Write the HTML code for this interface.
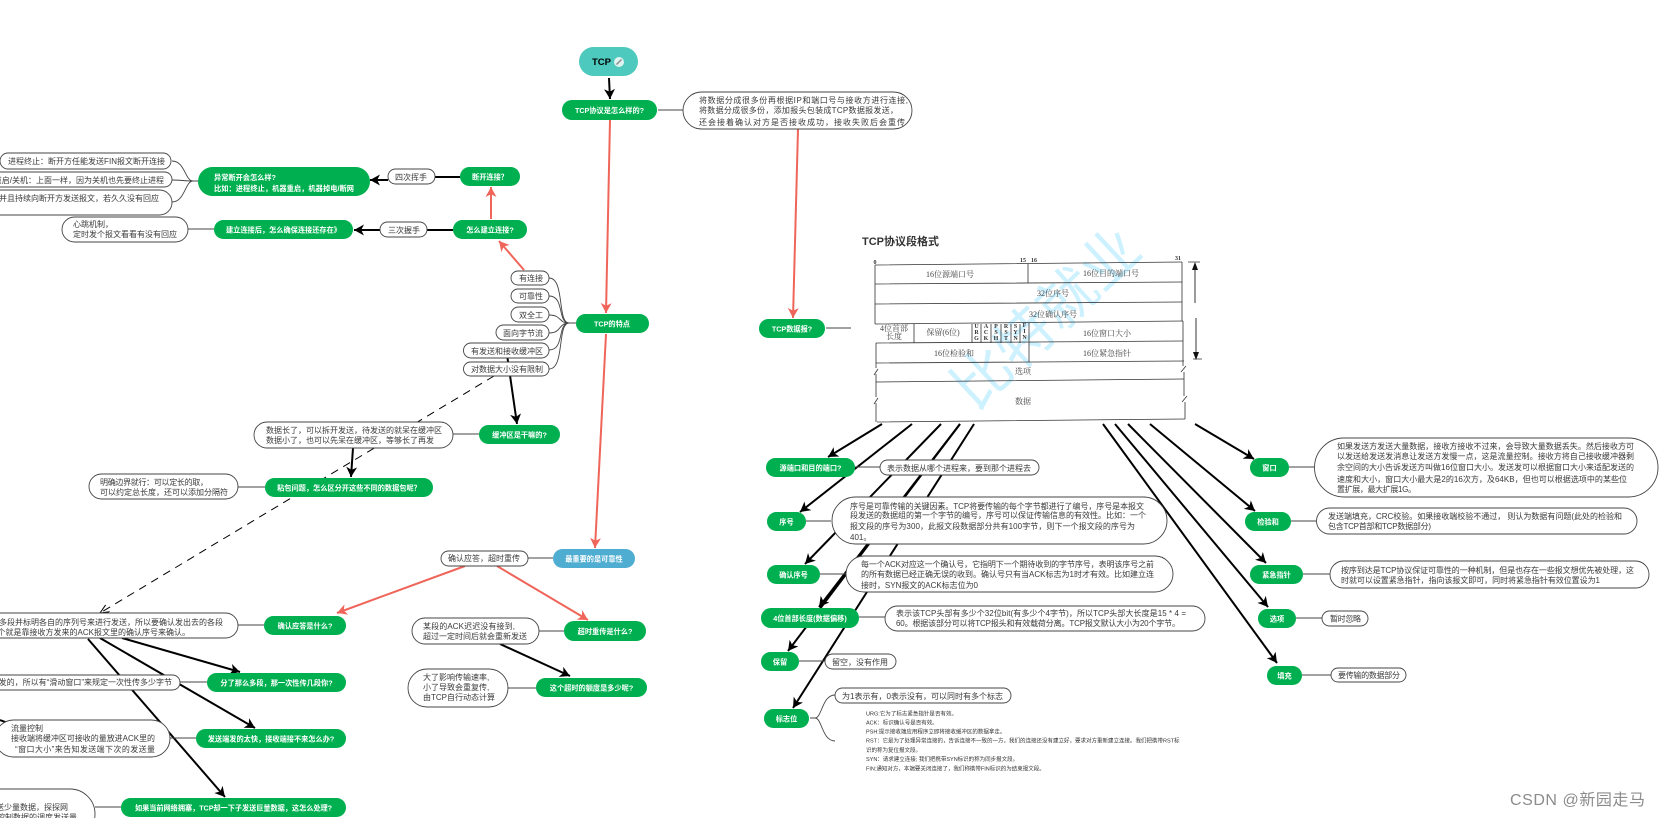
<!DOCTYPE html>
<html lang="zh">
<head>
<meta charset="utf-8">
<title>TCP</title>
<style>
html,body{margin:0;padding:0;background:#fff;width:1660px;height:818px;overflow:hidden}
svg{display:block;font-family:"Liberation Sans","Noto Sans CJK SC",sans-serif}
.t{font-size:8px;fill:#3a3a3a}
.g{font-size:7.2px;font-weight:bold;fill:#fff;text-anchor:middle}
.e{text-anchor:end}
.p{fill:#fff;stroke:#444;stroke-width:.9}
.n{fill:#00b050;filter:drop-shadow(.7px .7px 0 #a8e6c5)}
.k{stroke:#000;stroke-width:2;fill:none}
.r{stroke:#f0655a;stroke-width:2;fill:none}
.c{stroke:#444;stroke-width:.9;fill:none}
.l{stroke:#222;stroke-width:1;fill:none}
.s{font-family:"Liberation Serif","Noto Serif CJK SC",serif;font-size:8px;fill:#444;text-anchor:middle}
.f{font-family:"Liberation Serif",serif;font-size:6px;font-weight:bold;fill:#333;text-anchor:middle}
.m{font-size:5.5px;fill:#333}
.tb{stroke:#333;stroke-width:.8;fill:none}
</style>
</head>
<body>
<svg width="1660" height="818" viewBox="0 0 1660 818" xmlns="http://www.w3.org/2000/svg">
<defs>
<marker id="b" markerUnits="userSpaceOnUse" markerWidth="13" markerHeight="13" refX="10" refY="5.5" orient="auto"><path d="M0,0L10,5.5L0,11L2.8,5.5z" fill="#000"/></marker>
<marker id="a" markerUnits="userSpaceOnUse" markerWidth="13" markerHeight="13" refX="10" refY="5.5" orient="auto"><path d="M0,0L10,5.5L0,11L2.8,5.5z" fill="#f0655a"/></marker>
<marker id="d" markerUnits="userSpaceOnUse" markerWidth="12" markerHeight="12" refX="9" refY="4" orient="auto"><path d="M0,0L9,4L0,8" fill="none" stroke="#000" stroke-width="1"/></marker>
</defs>

<!-- watermark -->
<text x="975" y="412" transform="rotate(-43 975 412)" font-size="58" fill="#cdf1fe" style="font-family:'Noto Sans CJK SC',sans-serif">比特就业</text>

<!-- table -->
<text x="862" y="245" font-size="11" font-weight="bold" fill="#333" textLength="77">TCP协议段格式</text>
<g class="tb">
<path d="M875,265L1182,262M875,284L1182,282M875,304L1182,302M875,324L1183,321M876,343L1183,341M876,363L1184,361M876,382L1184,379M877,422L1185,419"/>
<path d="M875,265V324M876,343V368M876,374V397M876,403V422"/>
<path d="M1182,262V321M1183,321V366M1184,372V396M1185,402V419"/>
<path d="M1028,264V283M1029,323V362"/>
<path d="M914,324V343M972,324V343M981,324V343M991,324V343M1001,324V343M1011,324V343M1020,324V343"/>
<path d="M874,375L878,369M874,404L878,398M1181,372L1186,366M1182,402L1187,396"/>
<path d="M1188,262H1200M1193,359H1202"/>
</g>
<path d="M1195,264V303M1196,318V358" stroke="#222" stroke-width=".9" fill="none"/>
<path d="M1195,262L1192,270H1198zM1196,360L1193,352H1199z" fill="#111"/>
<text class="f" x="875" y="264">0</text><text class="f" x="1023" y="262">15</text><text class="f" x="1034" y="262">16</text><text class="f" x="1178" y="260">31</text>
<text class="s" x="950" y="277">16位源端口号</text>
<text class="s" x="1111" y="276">16位目的端口号</text>
<text class="s" x="1053" y="296">32位序号</text>
<text class="s" x="1053" y="317">32位确认序号</text>
<text class="s" x="894" y="331">4位首部</text><text class="s" x="894" y="339">长度</text>
<text class="s" x="943" y="335">保留(6位)</text>
<text class="s" x="1107" y="336">16位窗口大小</text>
<text class="s" x="954" y="356">16位检验和</text>
<text class="s" x="1107" y="356">16位紧急指针</text>
<text class="s" x="1023" y="374">选项</text>
<text class="s" x="1023" y="404">数据</text>
<g class="f">
<text x="976.5" y="328">U</text><text x="976.5" y="334">R</text><text x="976.5" y="340">G</text>
<text x="986" y="328">A</text><text x="986" y="334">C</text><text x="986" y="340">K</text>
<text x="996" y="328">P</text><text x="996" y="334">S</text><text x="996" y="340">H</text>
<text x="1006" y="328">R</text><text x="1006" y="334">S</text><text x="1006" y="340">T</text>
<text x="1015.5" y="328">S</text><text x="1015.5" y="334">Y</text><text x="1015.5" y="340">N</text>
<text x="1024.5" y="327">F</text><text x="1024.5" y="333">I</text><text x="1024.5" y="339">N</text>
</g>

<!-- black arrows -->
<g class="k">
<path d="M609,78L610,99" marker-end="url(#b)"/>
<path d="M388,180H370" marker-end="url(#b)"/>
<path d="M435,177H460"/>
<path d="M380,230H354" marker-end="url(#b)"/>
<path d="M427,230H453"/>
<path d="M507.5,358L517,424" marker-end="url(#b)"/>
<path d="M353,448L351,477" marker-end="url(#b)"/>
<path d="M122,638L240,672" marker-end="url(#b)"/>
<path d="M100,638L255,728" marker-end="url(#b)"/>
<path d="M88,639L225,797" marker-end="url(#b)"/>
<path d="M500,644L570,676" marker-end="url(#b)"/>
<path d="M882,424L828,457" marker-end="url(#b)"/>
<path d="M912,424L800,512" marker-end="url(#b)"/>
<path d="M941,424L805,564" marker-end="url(#b)"/>
<path d="M960,424L819,607" marker-end="url(#b)"/>
<path d="M960,424L788,651" marker-end="url(#b)"/>
<path d="M974,424L793,708" marker-end="url(#b)"/>
<path d="M1195,424L1254,459" marker-end="url(#b)"/>
<path d="M1150,424L1255,511" marker-end="url(#b)"/>
<path d="M1128,424L1266,563" marker-end="url(#b)"/>
<path d="M1115,424L1268,607" marker-end="url(#b)"/>
<path d="M1103,424L1277,663" marker-end="url(#b)"/>
<path d="M0,720L8,723"/>
</g>
<path d="M494,376L100,613" stroke="#000" stroke-width="1" stroke-dasharray="8,6" fill="none" marker-end="url(#d)"/>

<!-- red arrows -->
<g class="r">
<path d="M610,120L606,313" marker-end="url(#a)"/>
<path d="M798,129L793,318" marker-end="url(#a)"/>
<path d="M606,334L595,548" marker-end="url(#a)"/>
<path d="M491,219V187" marker-end="url(#a)"/>
<path d="M524,270L499,241" marker-end="url(#a)"/>
<path d="M465,566L337,613" marker-end="url(#a)"/>
<path d="M497,566L588,620" marker-end="url(#a)"/>
</g>

<!-- thin connectors -->
<g class="c">
<path d="M172,161C185,161 185,181 193,181M172,180C180,180 185,181 193,181M172,202C185,202 185,181 193,181M193,181H198"/>
<path d="M188,229H214"/>
<path d="M658,110H683"/>
<path d="M549,278C565,278 557,323 569,323M549,296C565,296 557,323 569,323M549,315C562,315 558,323 569,323M549,333C562,333 558,323 569,323M549,350C565,350 557,323 569,323M549,369C565,369 557,323 569,323M569,323H576"/>
<path d="M453,434H479M238,487H265M238,625H264M180,682H207M170,738H196M95,807H121M539,631H564M508,688H536M528,558H553"/>
<path d="M826,328H851M855,467H880M806,521H831M820,574H847M859,617H885M799,661H825"/>
<path d="M1289,467H1314M1291,521H1316M1303,574H1330M1296,618H1322M1302,675H1331"/>
<path d="M810,718H815C822,718 822,695 835,695M815,718C822,718 822,741 835,741"/>
</g>

<!-- root -->
<rect x="579" y="47" width="59" height="29" rx="14.5" fill="#4ec9bd"/>
<text x="592" y="65" font-size="9.5" font-weight="bold" fill="#000">TCP</text>
<circle cx="619" cy="62" r="5" fill="#dff3f1"/>
<path d="M616.5,64.5L621.5,59.5" stroke="#888" stroke-width="1.4"/>

<!-- green nodes -->
<rect class="n" x="198" y="167" width="172" height="29" rx="14.5"/>
<rect class="n" x="460" y="167" width="60" height="19" rx="9.5"/>
<rect class="n" x="214" y="220" width="139" height="19" rx="9.5"/>
<rect class="n" x="453" y="220" width="74" height="19" rx="9.5"/>
<rect class="n" x="562" y="100" width="95" height="20" rx="10"/>
<rect class="n" x="576" y="314" width="73" height="19" rx="9.5"/>
<rect class="n" x="479" y="425" width="81" height="19" rx="9.5"/>
<rect class="n" x="265" y="478" width="168" height="19" rx="9.5"/>
<rect x="553" y="549" width="82" height="19" rx="9.5" fill="#4fadd2"/>
<rect class="n" x="264" y="616" width="82" height="19" rx="9.5"/>
<rect class="n" x="564" y="621" width="82" height="20" rx="10"/>
<rect class="n" x="207" y="673" width="139" height="19" rx="9.5"/>
<rect class="n" x="536" y="678" width="111" height="19" rx="9.5"/>
<rect class="n" x="196" y="729" width="150" height="19" rx="9.5"/>
<rect class="n" x="121" y="798" width="225" height="19" rx="9.5"/>
<rect class="n" x="759" y="319" width="66" height="19" rx="9.5"/>
<rect class="n" x="766" y="458" width="89" height="19" rx="9.5"/>
<rect class="n" x="767" y="512" width="39" height="19" rx="9.5"/>
<rect class="n" x="767" y="565" width="53" height="19" rx="9.5"/>
<rect class="n" x="761" y="608" width="98" height="20" rx="10"/>
<rect class="n" x="761" y="652" width="38" height="19" rx="9.5"/>
<rect class="n" x="764" y="709" width="45" height="19" rx="9.5"/>
<rect class="n" x="1250" y="458" width="39" height="19" rx="9.5"/>
<rect class="n" x="1245" y="512" width="46" height="19" rx="9.5"/>
<rect class="n" x="1250" y="565" width="53" height="19" rx="9.5"/>
<rect class="n" x="1258" y="609" width="38" height="19" rx="9.5"/>
<rect class="n" x="1267" y="666" width="35" height="19" rx="9.5"/>

<text class="g" x="214" y="180" style="text-anchor:start">异常断开会怎么样?</text>
<text class="g" x="214" y="191" style="text-anchor:start" textLength="140">比如：进程终止，机器重启，机器掉电/断网</text>
<text class="g" x="490" y="179.5">断开连接？</text>
<text class="g" x="283.5" y="232.5">建立连接后，怎么确保连接还存在》</text>
<text class="g" x="490" y="232.5">怎么建立连接?</text>
<text class="g" x="609.5" y="113">TCP协议是怎么样的?</text>
<text class="g" x="612" y="326.5">TCP的特点</text>
<text class="g" x="519.5" y="437.5">缓冲区是干嘛的?</text>
<text class="g" x="349" y="490.5">粘包问题，怎么区分开这些不同的数据包呢？</text>
<text class="g" x="594" y="561.5">最重要的是可靠性</text>
<text class="g" x="305" y="628.5">确认应答是什么?</text>
<text class="g" x="605" y="634">超时重传是什么?</text>
<text class="g" x="276.5" y="685.5">分了那么多段，那一次性传几段你?</text>
<text class="g" x="591.5" y="690.5">这个超时的额度是多少呢?</text>
<text class="g" x="271" y="741.5">发送端发的太快，接收端接不来怎么办?</text>
<text class="g" x="233.5" y="810.5" textLength="197">如果当前网络拥塞，TCP却一下子发送巨量数据，这怎么处理?</text>
<text class="g" x="792" y="331.5">TCP数据报?</text>
<text class="g" x="810.5" y="470.5">源端口和目的端口?</text>
<text class="g" x="786.5" y="524.5">序号</text>
<text class="g" x="793.5" y="577.5">确认序号</text>
<text class="g" x="810" y="621">4位首部长度(数据偏移)</text>
<text class="g" x="780" y="664.5">保留</text>
<text class="g" x="786.5" y="721.5">标志位</text>
<text class="g" x="1269.5" y="470.5">窗口</text>
<text class="g" x="1268" y="524.5">检验和</text>
<text class="g" x="1276.5" y="577.5">紧急指针</text>
<text class="g" x="1277" y="621.5">选项</text>
<text class="g" x="1284.5" y="678.5">填充</text>

<!-- white pills -->
<rect class="p" x="0" y="153" width="171" height="16" rx="8"/>
<rect class="p" x="-40" y="172" width="212" height="15" rx="7.5"/>
<rect class="p" x="-60" y="190" width="232" height="25" rx="12.5"/>
<rect class="p" x="62" y="217" width="126" height="25" rx="12.5"/>
<rect class="p" x="388" y="169" width="47" height="15" rx="7.5"/>
<rect class="p" x="380" y="222" width="47" height="15" rx="7.5"/>
<rect class="p" x="683" y="92" width="229" height="37" rx="18.5"/>
<rect class="p" x="511" y="271" width="38" height="14" rx="7"/>
<rect class="p" x="511" y="289" width="38" height="14" rx="7"/>
<rect class="p" x="511" y="307" width="38" height="15" rx="7.5"/>
<rect class="p" x="496" y="325" width="53" height="15" rx="7.5"/>
<rect class="p" x="463.5" y="343" width="85.5" height="15" rx="7.5"/>
<rect class="p" x="463.5" y="362" width="85.5" height="14" rx="7"/>
<rect class="p" x="254" y="422" width="199" height="26" rx="13"/>
<rect class="p" x="89" y="474" width="149" height="25" rx="12.5"/>
<rect class="p" x="441" y="551" width="87" height="15" rx="7.5"/>
<rect class="p" x="412" y="618" width="127" height="26" rx="13"/>
<rect class="p" x="408" y="669" width="100" height="38" rx="19"/>
<rect class="p" x="-60" y="613" width="298" height="25" rx="12.5"/>
<rect class="p" x="-60" y="675" width="240" height="15" rx="7.5"/>
<rect class="p" x="-5" y="720" width="175" height="37" rx="18.5"/>
<rect class="p" x="-60" y="789" width="155" height="50" rx="25"/>
<rect class="p" x="880" y="460" width="159" height="15" rx="7.5"/>
<rect class="p" x="832" y="497" width="335" height="47" rx="23.5"/>
<rect class="p" x="846" y="556" width="327" height="36" rx="18"/>
<rect class="p" x="885" y="606" width="320" height="25" rx="12.5"/>
<rect class="p" x="825" y="654" width="71" height="15" rx="7.5"/>
<rect class="p" x="835" y="688" width="176" height="15" rx="7.5"/>
<rect class="p" x="1314.5" y="438" width="343.5" height="59" rx="29.5"/>
<rect class="p" x="1316.5" y="508" width="320.5" height="26" rx="13"/>
<rect class="p" x="1330" y="561" width="319" height="27" rx="13.5"/>
<rect class="p" x="1322" y="611" width="46" height="15" rx="7.5"/>
<rect class="p" x="1331" y="668" width="75" height="14" rx="7"/>

<!-- pill text -->
<text class="t" x="8" y="164" textLength="157">进程终止：断开方任能发送FIN报文断开连接</text>
<text class="t e" x="164" y="183">机器重启/关机：上面一样，因为关机也先要终止进程</text>
<text class="t e" x="159" y="201">对方机器掉电：无法发送FIN，并且持续向断开方发送报文，若久久没有回应</text>
<text class="t" x="73" y="227">心跳机制，</text>
<text class="t" x="73" y="237" textLength="104">定时发个报文看看有没有回应</text>
<text class="t" x="395" y="180" textLength="32">四次挥手</text>
<text class="t" x="388" y="233" textLength="32">三次握手</text>
<text class="t" x="699" y="103" textLength="209">将数据分成很多份再根据IP和端口号与接收方进行连接,</text>
<text class="t" x="699" y="113" textLength="199">将数据分成很多份，添加报头包装成TCP数据报发送，</text>
<text class="t" x="699" y="125" textLength="206">还会接着确认对方是否接收成功，接收失败后会重传</text>
<text class="t e" x="543" y="281">有连接</text>
<text class="t e" x="543" y="299">可靠性</text>
<text class="t e" x="543" y="318">双全工</text>
<text class="t e" x="543" y="336">面向字节流</text>
<text class="t e" x="543" y="354">有发送和接收缓冲区</text>
<text class="t e" x="543" y="372">对数据大小没有限制</text>
<text class="t" x="266" y="433" textLength="176">数据长了，可以拆开发送，待发送的就呆在缓冲区</text>
<text class="t" x="266" y="443" textLength="168">数据小了，也可以先呆在缓冲区，等够长了再发</text>
<text class="t" x="100" y="485" textLength="108">明确边界就行：可以定长的取，</text>
<text class="t" x="100" y="495" textLength="128">可以约定总长度，还可以添加分隔符</text>
<text class="t" x="448" y="561" textLength="72">确认应答，超时重传</text>
<text class="t" x="423" y="629" textLength="92">某段的ACK迟迟没有接到,</text>
<text class="t" x="423" y="639" textLength="104">超过一定时间后就会重新发送</text>
<text class="t" x="423" y="680">大了影响传输速率,</text>
<text class="t" x="423" y="690">小了导致会重复传,</text>
<text class="t" x="423" y="700">由TCP自行动态计算</text>
<text class="t e" x="223" y="625">TCP将每个报文分成多段并标明各自的序列号来进行发送，所以要确认发出去的各段</text>
<text class="t e" x="190" y="635">这个就是靠接收方发来的ACK报文里的确认序号来确认。</text>
<text class="t e" x="172" y="685">TCP是一段一段发的，所以有“滑动窗口”来规定一次性传多少字节</text>
<text class="t" x="11" y="731">流量控制</text>
<text class="t" x="11" y="741" textLength="144">接收端将缓冲区可接收的量放进ACK里的</text>
<text class="t" x="15" y="752" textLength="140">“窗口大小”来告知发送端下次的发送量</text>
<text class="t e" x="68" y="810">慢启动：先发送少量数据，探探网</text>
<text class="t e" x="77" y="820">络状况，再控制数据的调度发送量</text>
<text class="t" x="887" y="471" textLength="144">表示数据从哪个进程来，要到那个进程去</text>
<text class="t" x="850" y="509" textLength="294">序号是可靠传输的关键因素。TCP将要传输的每个字节都进行了编号，序号是本报文</text>
<text class="t" x="850" y="518" textLength="296">段发送的数据组的第一个字节的编号，序号可以保证传输信息的有效性。比如：一个</text>
<text class="t" x="850" y="529" textLength="285">报文段的序号为300，此报文段数据部分共有100字节，则下一个报文段的序号为</text>
<text class="t" x="850" y="540">401。</text>
<text class="t" x="861" y="567" textLength="293">每一个ACK对应这一个确认号，它指明下一个期待收到的字节序号，表明该序号之前</text>
<text class="t" x="861" y="577" textLength="293">的所有数据已经正确无误的收到。确认号只有当ACK标志为1时才有效。比如建立连</text>
<text class="t" x="861" y="588" textLength="117">接时，SYN报文的ACK标志位为0</text>
<text class="t" x="896" y="616" textLength="290">表示该TCP头部有多少个32位bit(有多少个4字节)，所以TCP头部大长度是15 * 4 =</text>
<text class="t" x="896" y="626" textLength="284">60。根据该部分可以将TCP报头和有效载荷分离。TCP报文默认大小为20个字节。</text>
<text class="t" x="832" y="665">留空，没有作用</text>
<text class="t" x="842" y="699" textLength="161">为1表示有，0表示没有，可以同时有多个标志</text>
<text class="m" x="866" y="715.5" textLength="91">URG:它为了标志紧急指针是否有效。</text>
<text class="m" x="866" y="724.5">ACK：标识确认号是否有效。</text>
<text class="m" x="866" y="733.5">PSH:提示接收端应用程序立即将接收缓冲区的数据拿走。</text>
<text class="m" x="866" y="742.5">RST：它是为了处理异常连接的，告诉连接不一致的一方，我们的连接还没有建立好，要求对方重新建立连接。我们把携带RST标</text>
<text class="m" x="866" y="752">识的称为复位报文段。</text>
<text class="m" x="866" y="761">SYN：请求建立连接; 我们把携带SYN标识的称为同步报文段。</text>
<text class="m" x="866" y="770.5">FIN:通知对方，本端要关闭连接了，我们称携带FIN标识的为结束报文段。</text>
<text class="t" x="1337" y="449" textLength="297">如果发送方发送大量数据，接收方接收不过来，会导致大量数据丢失。然后接收方可</text>
<text class="t" x="1337" y="459" textLength="297">以发送给发送发消息让发送方发慢一点，这是流量控制。接收方将自己接收缓冲器剩</text>
<text class="t" x="1337" y="470" textLength="297">余空间的大小告诉发送方叫做16位窗口大小。发送发可以根据窗口大小来适配发送的</text>
<text class="t" x="1337" y="482" textLength="290">速度和大小，窗口大小最大是2的16次方，及64KB，但也可以根据选项中的某些位</text>
<text class="t" x="1337" y="492" textLength="79">置扩展，最大扩展1G。</text>
<text class="t" x="1328" y="519" textLength="294">发送端填充，CRC校验。如果接收端校验不通过， 则认为数据有问题(此处的检验和</text>
<text class="t" x="1328" y="529" textLength="103">包含TCP首部和TCP数据部分)</text>
<text class="t" x="1341" y="573" textLength="293">按序到达是TCP协议保证可靠性的一种机制，但是也存在一些报文想优先被处理，这</text>
<text class="t" x="1341" y="583" textLength="259">时就可以设置紧急指针，指向该报文即可，同时将紧急指针有效位置设为1</text>
<text class="t" x="1330" y="621.5" textLength="31">暂时忽略</text>
<text class="t" x="1338" y="678" textLength="62">要传输的数据部分</text>

<text x="1645" y="805" text-anchor="end" font-size="16" fill="#8c8c8c" textLength="135">CSDN @新园走马</text>
</svg>
</body>
</html>
